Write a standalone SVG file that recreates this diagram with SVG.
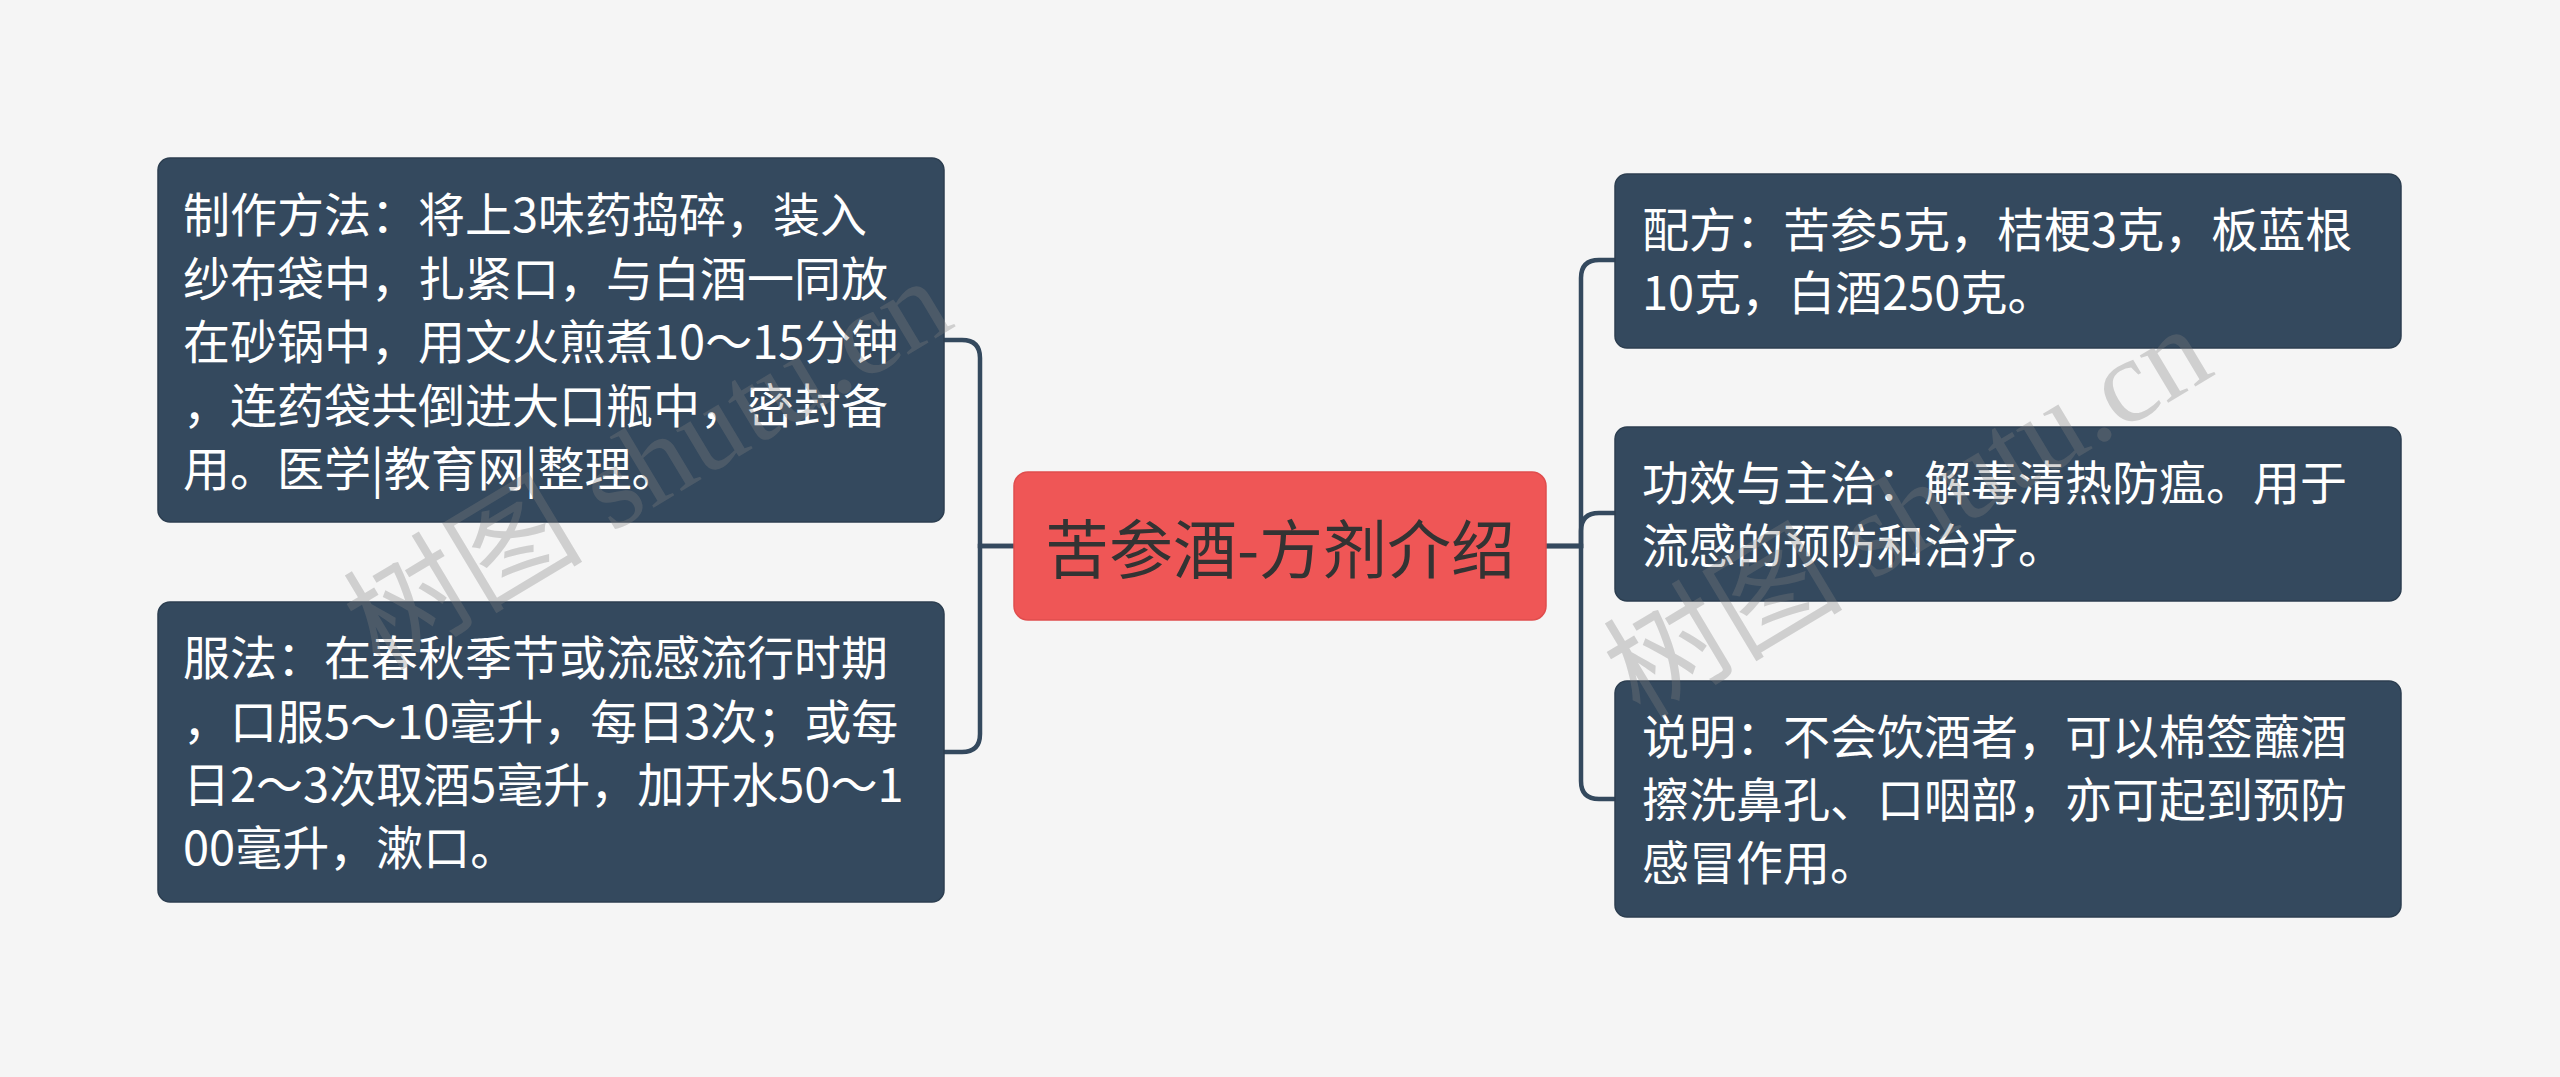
<svg xmlns="http://www.w3.org/2000/svg" width="2560" height="1077" viewBox="0 0 2560 1077">
<style>
.node rect{fill:#34495e;stroke:#2c3e50;stroke-width:1.5}
.node text{font-family:"Noto Sans CJK SC","Liberation Sans",sans-serif;font-size:47px;fill:#ffffff}
.center rect{fill:#ef5656;stroke:#e04d4d;stroke-width:1.5}
.center text{font-family:"Noto Sans CJK SC","Liberation Sans",sans-serif;font-size:64px;fill:#333333}
.conn path{fill:none;stroke:#34495e;stroke-width:4.5;stroke-linecap:round}
.wm{font-family:"Liberation Serif","Noto Sans CJK SC",serif;font-size:120px;fill:#808080;fill-opacity:0.32}
</style>
<rect width="2560" height="1077" fill="#f5f5f5"/>
<g id="connectors" class="conn">
<path d="M1014,546 H980 V358 Q980,340 962,340 H944"/>
<path d="M1014,546 H980 V734 Q980,752 962,752 H944"/>
<path d="M1546,546 H1581 V278 Q1581,260 1599,260 H1615"/>
<path d="M1546,546 H1581 V531 Q1581,513 1599,513 H1615"/>
<path d="M1546,546 H1581 V781 Q1581,799 1599,799 H1615"/>
</g>
<g id="center" class="center">
<rect x="1014" y="472" width="532" height="148" rx="14"/>
<text x="1280" y="573" text-anchor="middle">苦参酒-方剂介绍</text>
</g>
<g id="node-making" class="node">
<rect x="158" y="158" width="786" height="364" rx="12"/>
<text x="183" y="232">制作方法：将上3味药捣碎，装入</text>
<text x="183" y="295.5">纱布袋中，扎紧口，与白酒一同放</text>
<text x="183" y="359">在砂锅中，用文火煎煮10～15分钟</text>
<text x="183" y="422.5">，连药袋共倒进大口瓶中，密封备</text>
<text x="183" y="486">用。医学|教育网|整理。</text>
</g>
<g id="node-usage" class="node">
<rect x="158" y="602" width="786" height="300" rx="12"/>
<text x="183" y="675">服法：在春秋季节或流感流行时期</text>
<text x="183" y="738.5">，口服5～10毫升，每日3次；或每</text>
<text x="183" y="802">日2～3次取酒5毫升，加开水50～1</text>
<text x="183" y="865">00毫升，漱口。</text>
</g>
<g id="node-formula" class="node">
<rect x="1615" y="174" width="786" height="174" rx="12"/>
<text x="1642" y="247">配方：苦参5克，桔梗3克，板蓝根</text>
<text x="1642" y="310">10克，白酒250克。</text>
</g>
<g id="node-effect" class="node">
<rect x="1615" y="427" width="786" height="174" rx="12"/>
<text x="1642" y="500">功效与主治：解毒清热防瘟。用于</text>
<text x="1642" y="563">流感的预防和治疗。</text>
</g>
<g id="node-note" class="node">
<rect x="1615" y="681" width="786" height="236" rx="12"/>
<text x="1642" y="754">说明：不会饮酒者，可以棉签蘸酒</text>
<text x="1642" y="817">擦洗鼻孔、口咽部，亦可起到预防</text>
<text x="1642" y="880">感冒作用。</text>
</g>
<g id="watermarks">
<text class="wm" transform="translate(380,672) rotate(-31)">树图 shutu.cn</text>
<text class="wm" transform="translate(1640,720) rotate(-31)">树图 shutu.cn</text>
</g>
</svg>
